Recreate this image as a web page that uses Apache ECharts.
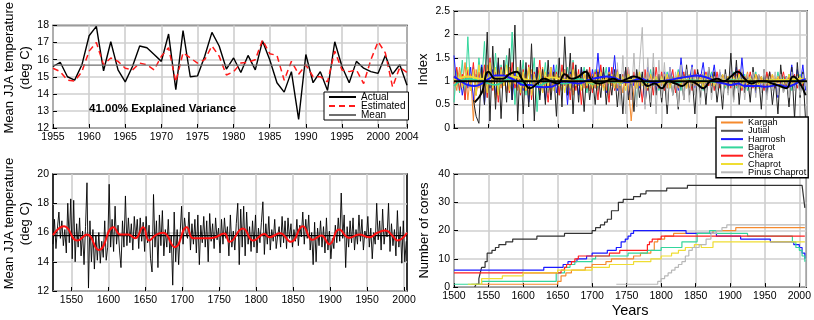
<!DOCTYPE html>
<html>
<head>
<meta charset="utf-8">
<script src="https://cdn.jsdelivr.net/npm/echarts@6/dist/echarts.min.js"></script>
<style>
  html, body { margin: 0; padding: 0; background: #fff; }
  #chart { width: 814px; height: 320px; }
</style>
</head>
<body>
<div id="chart"></div>
<script>
// ---- top left: calibration 1955-2004
const calYears = [1955,1956,1957,1958,1959,1960,1961,1962,1963,1964,1965,1966,1967,1968,1969,1970,1971,1972,1973,1974,1975,1976,1977,1978,1979,1980,1981,1982,1983,1984,1985,1986,1987,1988,1989,1990,1991,1992,1993,1994,1995,1996,1997,1998,1999,2000,2001,2002,2003,2004];
const actual = [15.6,15.85,15.0,14.8,15.7,17.4,17.95,15.35,17.05,15.4,14.7,15.6,16.8,16.7,16.3,15.9,17.5,14.25,17.7,15.0,15.05,16.2,17.6,16.8,15.45,16.1,15.25,16.25,15.4,17.1,16.0,14.65,14.1,15.3,12.5,16.3,14.65,15.3,14.2,17.05,15.6,14.65,15.9,15.5,15.3,15.2,16.25,15.15,15.7,14.5];
const estimated = [15.5,15.3,14.8,14.75,15.3,16.5,17.0,15.7,16.1,15.9,15.5,15.4,15.8,15.7,15.4,16.2,16.7,14.7,16.4,16.1,15.8,16.0,16.8,16.2,15.1,15.3,15.8,15.85,16.0,17.15,16.35,16.25,14.8,15.9,15.15,15.7,15.0,15.0,14.7,16.5,15.4,15.3,15.4,14.6,16.0,17.05,16.4,14.4,15.55,15.25];
const calMean = 15.68;

// ---- bottom left: reconstruction, every 2nd year from 1525
const reconStart = 1525, reconStep = 2;
const recon = [
  15.2,16.9,14.9,16.3,17.4,15.6,16.8,15.1,16.2,14.6,18.0,15.3,18.3,
  14.2,18.2,14.0,16.6,15.0,17.0,14.4,16.1,13.8,16.4,19.4,12.2,16.8,
  14.0,16.2,13.5,15.8,14.1,16.0,13.9,15.4,14.3,16.8,14.1,15.0,19.3,
  15.0,16.9,14.7,17.8,15.2,16.5,14.8,13.6,16.8,15.0,18.5,15.1,17.0,
  15.3,16.6,14.8,17.1,15.6,16.9,14.9,17.0,15.4,16.7,14.7,17.1,15.3,
  16.5,14.2,13.3,18.6,15.0,16.8,13.6,17.2,15.1,17.5,14.4,16.2,15.0,
  16.9,14.6,15.8,12.4,17.4,14.0,16.2,13.8,15.9,17.8,15.2,17.0,16.0,
  15.6,17.4,14.8,16.6,15.2,16.9,14.6,17.2,13.8,16.5,15.3,17.1,15.0,
  16.8,14.0,17.3,15.4,16.6,14.9,17.0,15.5,16.3,14.6,16.9,15.2,17.0,
  15.6,16.4,14.4,17.2,15.0,16.1,14.8,16.6,18.0,13.8,17.6,15.0,17.8,
  14.4,17.4,15.2,16.4,14.7,16.8,15.0,17.2,14.6,16.3,15.3,16.7,18.1,
  14.5,16.6,15.2,17.1,14.8,16.2,15.4,16.9,14.9,15.8,16.4,15.0,17.1,
  15.3,16.8,14.9,17.0,15.6,16.6,15.0,16.2,15.4,16.9,15.1,16.5,15.7,
  17.4,15.2,16.9,15.6,17.2,14.8,16.0,13.8,16.7,14.0,16.3,15.1,16.8,
  15.0,16.4,14.6,17.0,14.8,16.1,14.2,15.6,14.9,16.5,15.3,17.0,15.4,
  18.7,15.6,17.2,13.6,16.4,15.0,16.8,15.3,17.0,14.8,16.2,15.2,17.2,
  15.4,16.9,14.8,16.1,15.6,17.1,15.0,16.3,14.2,16.0,15.2,18.0,15.5,
  16.8,14.8,17.6,15.2,16.3,15.7,18.0,14.7,16.6,15.1,16.2,14.4,17.5,
  15.0,16.4,13.9,16.8,14.0,15.4
];
const reconSmooth = [[1525,15.82],[1540,16.43],[1558,15.45],[1571,15.86],[1587,14.8],[1607,16.36],[1616,15.86],[1627,15.86],[1636,15.6],[1647,16.36],[1655,15.45],[1665,15.86],[1674,15.98],[1690,15.0],[1706,16.36],[1715,15.6],[1733,15.6],[1742,15.64],[1757,15.93],[1764,15.36],[1782,16.27],[1796,15.45],[1811,15.9],[1818,15.68],[1832,15.95],[1847,15.36],[1863,16.43],[1876,15.5],[1888,15.8],[1899,15.2],[1912,16.2],[1926,15.64],[1939,15.86],[1953,15.68],[1964,15.98],[1975,16.14],[1984,15.8],[1991,15.45],[2004,15.98]];
const reconMean = 15.78;

// ---- top right: site indices, every 4th year
const idxStep = 4;
const bagrot = [
  0.55,1.25,0.75,1.45,0.6,1.95,0.8,1.3,0.7,1.5,0.95,1.85,0.65,1.4,0.85,1.6,0.75,1.35,1.0,1.55,0.8,2.05,0.5,1.3,0.9,
  1.45,0.7,1.3,0.95,1.5,0.35,1.2,0.85,1.4,0.75,1.1,0.9,1.35,0.7,1.2,1.0,1.3,0.8,1.45,0.85,1.15,0.9,1.3,0.75,1.2,
  0.9,1.25,0.8,1.15,0.95,1.3,0.7,1.1,0.95,1.25,0.8,1.15,0.9,1.2,0.85,1.1,0.6,1.2,0.95,1.15,0.85,1.25,0.9,1.1,0.8,
  1.15,0.9,1.2,0.85,1.1,0.95,1.25,0.8,1.15,0.9,1.05,0.85,1.2,0.95,1.1,0.8,1.15,0.9,1.2,0.85,1.05,0.95,1.15,0.85,1.1,
  0.9,1.2,0.85,1.1,0.95,1.15,0.8,1.05,0.9,1.2,0.85,1.1,0.95,1.15,0.9,1.05,0.85,1.2,0.9,1.1,0.95,1.15,0.8,1.1,0.95,
  1.15,0.9,1.05
];
const chera = [
  0.95,1.3,0.8,1.15,0.6,1.25,0.85,1.4,0.7,1.2,0.9,1.35,0.65,1.5,0.8,1.2,0.55,1.3,0.9,1.15,0.75,1.4,0.85,1.1,0.7,
  1.25,0.8,1.35,0.6,1.2,0.9,1.45,0.75,1.1,0.55,1.3,0.85,1.2,0.7,1.35,0.9,1.15,0.6,1.4,0.8,1.25,0.5,1.2,0.85,1.3,
  0.75,1.2,0.6,1.35,0.85,1.1,0.55,1.3,0.8,1.25,0.7,1.15,0.9,1.3,0.6,1.2,0.85,1.1,0.55,1.25,0.8,1.15,0.7,1.3,0.85,
  1.2,0.8,1.1,0.9,1.25,0.75,1.15,0.9,1.2,0.85,1.1,0.8,1.25,0.9,1.15,0.85,1.2,0.9,1.1,0.8,1.2,0.85,1.15,0.9,1.1,
  0.85,1.15,0.9,1.25,0.8,1.1,0.9,1.2,0.85,1.15,0.95,1.1,0.8,1.2,0.9,1.15,0.85,1.1,0.95,1.2,0.85,1.1,0.9,1.15,0.85,
  1.1,0.9,1.05
];
const harmosh = [
  1.55,0.9,1.2,0.7,1.1,0.85,1.3,0.6,1.15,0.9,1.35,0.5,1.2,0.85,1.25,0.7,1.4,0.9,1.15,0.75,1.3,0.6,1.2,0.85,1.1,
  0.8,1.25,0.55,1.15,0.9,1.3,0.7,1.1,0.6,1.2,0.85,1.35,0.75,1.1,0.9,1.25,0.5,1.2,0.85,1.15,0.7,1.3,0.9,1.1,0.8,
  1.25,0.85,1.6,0.9,1.2,0.75,1.3,0.9,1.55,0.8,1.15,0.95,1.25,0.7,1.1,0.9,1.2,0.85,1.15,0.5,1.3,0.9,1.2,0.8,1.1,
  0.9,1.2,0.85,1.3,0.95,1.1,0.8,1.5,0.9,1.25,1.0,1.35,0.85,1.2,1.05,1.4,0.9,1.25,1.0,1.35,0.85,1.2,1.0,1.1,0.9,
  1.2,0.9,1.3,0.8,1.5,0.85,1.1,0.9,1.2,0.75,1.15,0.85,1.1,0.7,1.2,0.9,1.05,0.65,1.15,0.85,1.1,0.9,1.35,0.85,1.25,
  0.9,1.35,0.8
];
const kargah = [
  1.1,0.8,1.3,0.9,1.4,0.6,1.15,0.15,1.25,0.85,1.2,0.7,1.35,0.9,1.1,0.6,1.25,0.85,1.15,0.75,1.3,0.9,1.1,0.8,1.2,
  0.85,1.15,0.7,1.25,0.9,1.1,0.8,1.3,0.85,1.15,0.75,1.2,0.9,1.1,0.8,1.25,0.85,1.15,0.7,1.2,0.9,1.1,0.85,1.2,0.8,
  1.15,0.85,1.25,0.9,1.1,0.8,1.2,0.9,1.15,0.85,1.1,0.75,1.25,0.9,0.15,0.85,1.2,0.9,1.1,0.8,1.2,0.85,1.1,0.9,1.15,
  0.9,1.15,0.85,1.2,0.95,1.1,0.85,1.15,0.9,1.05,0.85,1.2,0.9,1.1,0.95,1.15,0.85,1.1,0.9,1.2,0.85,1.05,0.95,1.15,0.9,
  1.1,0.9,1.15,0.85,1.05,0.95,1.2,0.9,1.1,0.85,1.15,0.95,1.05,0.9,1.2,0.85,1.1,0.95,1.15,0.9,1.05,0.85,1.1,0.95,1.15,
  0.95,1.1,1.0
];
const chaprot = [
  1.05,0.9,1.2,0.85,1.1,1.3,0.8,1.25,0.7,1.35,0.9,1.2,0.75,1.4,0.85,1.3,0.7,1.25,0.9,1.35,0.8,1.2,0.95,1.3,0.75,
  1.2,0.8,1.3,0.7,1.15,0.9,1.25,0.75,1.2,0.85,1.3,0.8,1.15,0.9,1.2,0.75,1.1,0.85,1.25,0.9,1.15,0.8,1.2,0.9,1.1,
  0.85,1.15,0.9,1.2,0.8,1.1,0.95,1.15,0.85,1.2,0.9,1.1,0.8,1.15,0.95,1.1,0.85,1.2,0.9,1.05,0.85,1.15,0.95,1.1,0.9,
  1.1,0.9,1.15,0.85,1.05,0.95,1.2,0.9,1.1,0.85,1.15,0.95,1.05,0.9,1.1,0.85,1.15,0.95,1.1,0.9,1.05,0.95,1.15,0.9,1.1,
  0.9,1.1,0.95,1.15,0.85,1.05,0.95,1.1,0.9,1.15,0.85,1.1,0.95,1.05,0.9,1.15,0.95,1.1,0.85,1.05,0.95,1.15,0.9,1.1,0.95,
  1.1,0.95,1.05
];
const jutialStart = 1528;
const jutial = [
  0.6,0.25,0.1,1.3,0.5,2.05,0.15,1.75,0.4,1.5,0.2,1.45,0.55,1.7,0.6,2.2,0.15,1.45,0.3,1.4,0.45,1.8,0.15,1.3,0.6,
  1.25,0.5,1.45,0.6,1.2,0.25,1.5,0.45,1.95,0.7,1.6,0.3,1.35,0.55,1.3,0.35,1.25,0.6,1.1,0.5,1.2,0.65,1.3,0.5,1.15,
  0.7,1.25,0.45,1.15,0.3,1.3,0.6,1.1,0.35,1.25,0.65,1.2,0.5,1.05,0.45,1.3,0.7,1.15,0.55,1.1,0.3,1.25,0.7,1.05,0.4,
  1.2,0.6,1.35,0.7,1.1,0.3,1.25,0.65,1.15,0.5,1.3,0.75,1.2,0.55,1.05,0.4,1.25,0.75,1.6,0.6,1.45,0.5,1.2,0.75,1.1,
  0.55,1.3,0.8,1.15,0.4,1.25,0.7,1.2,0.5,1.05,0.3,1.35,0.75,1.1,0.45,1.3,0.2,1.4,0.65,1.2,0.15
];
const pinusStart = 1736;
const pinus = [
  1.4,0.5,1.55,0.3,1.3,0.6,1.6,0.45,1.35,2.15,0.4,1.5,0.55,1.6,0.3,1.45,0.65,1.4,0.5,1.3,0.7,1.2,0.45,1.35,0.6,
  1.25,0.55,1.3,0.7,1.15,0.5,1.2,0.75,1.3,0.6,1.1,0.8,1.25,0.65,1.15,0.7,1.2,0.55,1.1,0.75,1.25,0.6,1.15,0.8,1.2,
  0.65,1.15,0.75,1.25,0.6,1.1,0.8,1.2,0.7,1.15,0.75,1.1,0.65,1.2,0.8,1.1,0.7,1.15,0.9
];
const jutialSmooth = [[1530,0.55],[1540,0.75],[1550,1.2],[1560,1.05],[1570,1.05],[1580,1.15],[1590,1.2],[1600,1.0],[1610,0.85],[1620,0.95],[1630,1.05],[1640,1.0],[1650,0.95],[1660,1.15],[1670,1.05],[1680,1.1],[1690,1.2],[1700,1.0],[1710,0.95],[1720,1.0],[1730,1.05],[1740,1.0],[1750,1.05],[1760,1.1],[1770,1.05],[1780,0.9],[1790,0.95],[1800,0.85],[1810,1.0],[1820,0.95],[1830,0.9],[1840,1.0],[1850,0.95],[1860,0.85],[1870,1.0],[1880,1.05],[1890,1.0],[1900,1.1],[1910,1.2],[1920,1.05],[1930,0.95],[1940,1.0],[1950,1.0],[1960,0.95],[1970,0.9],[1980,0.85],[1990,1.1],[2000,0.95],[2008,0.7]];
const harmoshSmooth = [[1500,1.1],[1510,1.0],[1520,0.92],[1530,0.9],[1540,0.95],[1550,1.05],[1560,1.12],[1570,1.12],[1580,1.08],[1590,1.0],[1600,0.92],[1610,0.92],[1620,0.88],[1630,0.87],[1640,0.88],[1650,0.95],[1660,1.0],[1670,0.97],[1680,0.95],[1690,1.0],[1700,1.05],[1710,1.08],[1720,1.1],[1730,1.08],[1740,1.02],[1750,0.98],[1760,1.02],[1770,1.05],[1780,1.0],[1790,0.97],[1800,1.0],[1810,1.02],[1820,1.05],[1830,1.08],[1840,1.1],[1850,1.12],[1860,1.1],[1870,1.05],[1880,0.98],[1890,0.95],[1900,0.92],[1910,0.95],[1920,0.9],[1930,0.9],[1940,0.9],[1950,0.88],[1960,0.9],[1970,0.92],[1980,0.88],[1990,0.92],[2000,1.0],[2008,1.05]];
const chaprotSmooth = [[1500,1.0],[1520,1.1],[1540,1.05],[1560,1.08],[1580,1.1],[1600,1.05],[1620,1.0],[1640,1.08],[1660,1.03],[1680,1.0],[1700,0.97],[1720,1.02],[1740,0.98],[1760,1.03],[1780,1.0],[1800,0.97],[1820,1.02],[1840,1.0],[1860,0.98],[1880,1.03],[1900,1.0],[1920,1.02],[1940,0.98],[1960,1.02],[1980,1.03],[2000,1.05],[2008,1.05]];
const bagrotSmooth = [[1500,0.9],[1520,1.05],[1540,1.0],[1560,0.92],[1580,1.05],[1600,0.95],[1620,0.9],[1640,1.0],[1660,0.95],[1680,1.05],[1700,0.95],[1720,1.0],[1740,0.97],[1760,1.02],[1780,0.98],[1800,1.0],[1820,0.97],[1840,1.02],[1860,1.0],[1880,0.98],[1900,1.02],[1920,1.0],[1940,0.98],[1960,1.0],[1980,1.02],[2000,1.0],[2008,1.0]];

// ---- bottom right: number of cores, [year, count] at each change
const coresJutial = [[1530,0],[1532,1],[1536,3],[1538,5],[1540,7],[1545,9],[1548,12],[1555,13],[1560,14],[1565,15],[1575,16],[1585,17],[1620,18],[1660,19],[1700,20],[1705,21],[1712,22],[1718,23],[1722,24],[1728,27],[1738,30],[1745,31],[1760,32],[1770,33],[1778,34],[1808,35],[1838,36],[2004,36],[2006,32],[2008,28]];
const coresHarmosh = [[1500,6],[1630,7],[1658,8],[1665,9],[1678,10],[1692,11],[1700,12],[1722,13],[1735,14],[1742,16],[1748,17],[1752,18],[1756,19],[1760,20],[1836,19],[1880,18],[1915,17],[1958,16],[1992,15],[2000,14],[2004,12],[2008,10]];
const coresChera = [[1500,5],[1655,6],[1660,7],[1663,8],[1670,9],[1675,10],[1680,11],[1725,12],[1740,13],[1780,15],[1783,16],[1787,17],[1800,18],[2008,18]];
const coresBagrot = [[1500,1],[1540,2],[1648,5],[1660,7],[1668,8],[1675,9],[1700,10],[1705,11],[1752,12],[1780,13],[1800,14],[1830,16],[1852,19],[1870,20],[1880,19],[1925,18],[1990,16],[1995,14],[2000,13],[2004,11],[2008,9]];
const coresKargah = [[1525,1],[1650,2],[1655,4],[1662,5],[1670,6],[1690,7],[1700,8],[1720,9],[1728,10],[1760,11],[1770,12],[1785,13],[1790,16],[1795,17],[1805,18],[1818,19],[1875,20],[1908,21],[2008,21]];
const coresChaprot = [[1520,1],[1540,3],[1570,4],[1600,5],[1650,6],[1700,7],[1725,8],[1760,9],[1785,10],[1800,11],[1815,12],[1825,13],[1835,14],[1848,15],[1858,14],[1875,16],[2008,16]];
const coresPinus = [[1735,1],[1795,2],[1800,3],[1805,4],[1810,5],[1815,6],[1820,7],[1825,8],[1830,9],[1835,11],[1840,13],[1845,14],[1855,15],[1865,17],[1872,19],[1880,20],[1888,21],[1895,22],[2008,22]];

const reconTicks = [1550,1600,1650,1700,1750,1800,1850,1900,1950,2000];

const colors = {
  Kargah: '#f58a2e', Jutial: '#222222', Harmosh: '#1a1aff', Bagrot: '#33d69c',
  Chera: '#ff1f1f', Chaprot: '#efdd33', 'Pinus Chaprot': '#b8b8b8'
};
const FONT = 'Liberation Sans, Arial, sans-serif';

function toPairs(start, step, values) {
  return values.map((v, i) => [start + i * step, v]);
}

function axisBase(gridIndex) {
  return {
    gridIndex: gridIndex,
    type: 'value',
    axisLine: { show: false },
    axisTick: { inside: true, length: 4, lineStyle: { color: '#000' } },
    axisLabel: { color: '#000', fontSize: 10.5, fontFamily: FONT, margin: 4, formatter: v => String(v) },
    splitLine: { show: true, lineStyle: { color: '#cfcfcf', width: 1.6 } },
    nameTextStyle: { color: '#000', fontSize: 13, fontFamily: FONT, lineHeight: 16 }
  };
}

function line(name, x, y, data, color, width, extra) {
  return Object.assign({
    name: name, type: 'line', xAxisIndex: x, yAxisIndex: y,
    data: data, symbol: 'none', silent: true,
    lineStyle: { color: color, width: width },
    itemStyle: { color: color }
  }, extra || {});
}

let myChart = echarts.init(document.getElementById('chart'));

let grids = [
  { left: 53, top: 11, width: 354, height: 117 },
  { left: 454, top: 11, width: 353, height: 117 },
  { left: 53, top: 174, width: 354, height: 117 },
  { left: 454, top: 174, width: 353, height: 117 }
].map(g => Object.assign(g, { show: true, borderColor: '#000', borderWidth: 1.6, backgroundColor: '#fff' }));

let xAxes = [
  Object.assign(axisBase(0), { min: 1955, max: 2004, interval: 5 }),
  Object.assign(axisBase(1), { min: 1500, max: 2010, interval: 50 }),
  Object.assign(axisBase(2), { min: 1525, max: 2004 }),
  Object.assign(axisBase(3), { min: 1500, max: 2010, interval: 50, name: 'Years', nameLocation: 'middle', nameGap: 13 })
];
xAxes[1].axisLabel.show = false;
xAxes[2].axisLabel.customValues = reconTicks;
xAxes[2].axisTick.customValues = reconTicks;
xAxes[3].nameTextStyle = Object.assign({}, xAxes[3].nameTextStyle, { fontSize: 14.5, verticalAlign: 'top' });

// JJA labels sit a little above the panel middle, as in the source figure
let jjaName = 'Mean JJA temperature\n(deg C)';
let jjaText = { color: '#000', fontSize: 13, fontFamily: FONT, lineHeight: 16, padding: [0, 0, 0, 18] };
let yAxes = [
  Object.assign(axisBase(0), { min: 12, max: 18, interval: 1, name: jjaName, nameLocation: 'middle', nameGap: 15, nameTextStyle: jjaText }),
  Object.assign(axisBase(1), { min: 0, max: 2.5, interval: 0.5, name: 'Index', nameLocation: 'middle', nameGap: 22 }),
  Object.assign(axisBase(2), { min: 12, max: 20, interval: 2, name: jjaName, nameLocation: 'middle', nameGap: 15, nameTextStyle: jjaText }),
  Object.assign(axisBase(3), { min: 0, max: 40, interval: 10, name: 'Number of cores', nameLocation: 'middle', nameGap: 22 })
];

let series = [
  line('Actual', 0, 0, calYears.map((y, i) => [y, actual[i]]), '#000', 1.4),
  line('Estimated', 0, 0, calYears.map((y, i) => [y, estimated[i]]), '#ff1a1a', 1.5, { lineStyle: { color: '#ff1a1a', width: 1.5, type: [6, 4] } }),
  line('Mean', 0, 0, [[calYears[0], calMean], [calYears[calYears.length - 1], calMean]], '#6e6e6e', 1.2),

  line('Bagrot', 1, 1, toPairs(1500, idxStep, bagrot), colors.Bagrot, 1),
  line('Chera', 1, 1, toPairs(1500, idxStep, chera), colors.Chera, 1),
  line('Harmosh', 1, 1, toPairs(1500, idxStep, harmosh), colors.Harmosh, 1),
  line('Kargah', 1, 1, toPairs(1500, idxStep, kargah), colors.Kargah, 1),
  line('Jutial', 1, 1, toPairs(jutialStart, idxStep, jutial), colors.Jutial, 1),
  line('Pinus Chaprot', 1, 1, toPairs(pinusStart, idxStep, pinus), colors['Pinus Chaprot'], 1),
  line('Chaprot', 1, 1, toPairs(1500, idxStep, chaprot), colors.Chaprot, 1),
  line('bagrotSmooth', 1, 1, bagrotSmooth, colors.Bagrot, 1.8, { smooth: true }),
  line('chaprotSmooth', 1, 1, chaprotSmooth, colors.Chaprot, 1.8, { smooth: true }),
  line('harmoshSmooth', 1, 1, harmoshSmooth, colors.Harmosh, 2, { smooth: true }),
  line('jutialSmooth', 1, 1, jutialSmooth, '#000', 2, { smooth: true }),
  line('unity', 1, 1, [[1500, 1], [2010, 1]], '#000', 2),

  line('recon', 2, 2, toPairs(reconStart, reconStep, recon), '#000', 0.9),
  line('reconMean', 2, 2, [[1525, reconMean], [2004, reconMean]], '#000', 1.3),
  line('reconSmooth', 2, 2, reconSmooth, '#ff1010', 2, { smooth: true }),

  line('Kargah', 3, 3, coresKargah, colors.Kargah, 1.2, { step: 'end' }),
  line('Jutial', 3, 3, coresJutial, '#333', 1.2, { step: 'end' }),
  line('Harmosh', 3, 3, coresHarmosh, colors.Harmosh, 1.2, { step: 'end' }),
  line('Bagrot', 3, 3, coresBagrot, colors.Bagrot, 1.2, { step: 'end' }),
  line('Chera', 3, 3, coresChera, colors.Chera, 1.2, { step: 'end' }),
  line('Chaprot', 3, 3, coresChaprot, colors.Chaprot, 1.2, { step: 'end' }),
  line('Pinus Chaprot', 3, 3, coresPinus, colors['Pinus Chaprot'], 1.2, { step: 'end' })
];

let option = {
  animation: false,
  backgroundColor: '#fff',
  title: {
    text: '41.00% Explained Variance',
    left: 89, top: 103, padding: 0,
    textStyle: { fontSize: 11.5, fontWeight: 'bold', color: '#000', fontFamily: FONT }
  },
  legend: [
    {
      data: ['Actual', 'Estimated', 'Mean'],
      left: 324, top: 92, orient: 'vertical',
      backgroundColor: '#fff', borderColor: '#000', borderWidth: 1,
      padding: [0, 3, 0, 4], itemGap: -1, itemWidth: 27, itemHeight: 8, itemTextGap: 3,
      itemStyle: { opacity: 0 },
      selectedMode: false,
      textStyle: { color: '#000', fontSize: 10, fontFamily: FONT, lineHeight: 8.5 }
    },
    {
      data: ['Kargah', { name: 'Jutial', lineStyle: { color: '#555', width: 2 } }, 'Harmosh',
             { name: 'Bagrot', lineStyle: { width: 2 } }, 'Chera', 'Chaprot', 'Pinus Chaprot'],
      left: 716, top: 117, orient: 'vertical',
      backgroundColor: '#fff', borderColor: '#000', borderWidth: 1.4,
      padding: [1, 2, 1, 4], itemGap: -0.7, itemWidth: 22, itemHeight: 8, itemTextGap: 3,
      itemStyle: { opacity: 0 },
      selectedMode: false,
      textStyle: { color: '#000', fontSize: 9.2, fontFamily: FONT, lineHeight: 8 }, z: 10
    }
  ],
  grid: grids,
  xAxis: xAxes,
  yAxis: yAxes,
  series: series
};

myChart.setOption(option);
</script>
</body>
</html>
